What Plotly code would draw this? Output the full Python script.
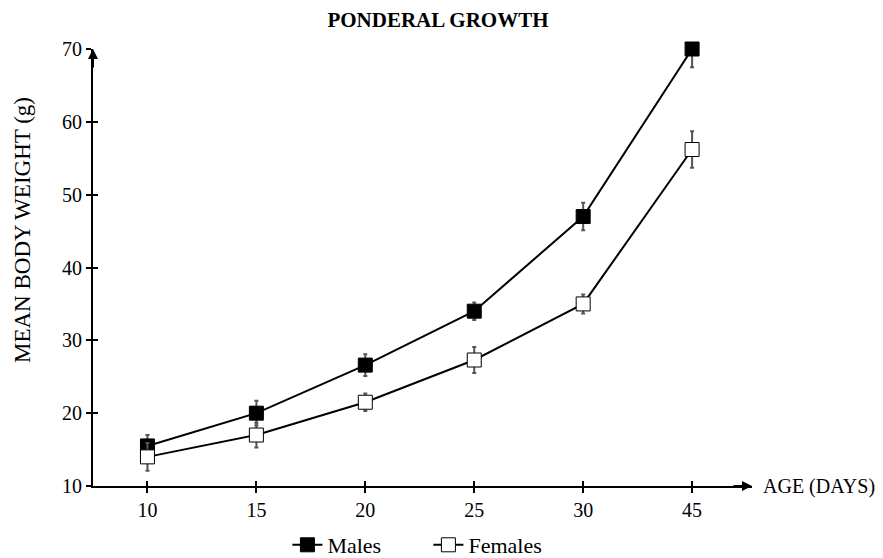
import plotly.graph_objects as go

ages = ["10", "15", "20", "25", "30", "45"]
males = [15.5, 20.0, 26.6, 34.0, 47.0, 70.0]
males_err = [1.5, 1.7, 1.5, 1.2, 1.9, 2.5]
females = [14.0, 17.0, 21.5, 27.3, 35.0, 56.2]
females_err = [1.9, 1.7, 1.2, 1.8, 1.3, 2.5]
y_ticks = [10, 20, 30, 40, 50, 60, 70]

FONT = "Liberation Serif"
XR = [-0.5, 5.55]
YR = [10, 70]

fig = go.Figure()
fig.add_trace(go.Scatter(
    x=ages, y=males, name="Males", mode="lines+markers", cliponaxis=False,
    line=dict(color="black", width=2),
    marker=dict(symbol="square", size=14, color="black", line=dict(color="black", width=1)),
    error_y=dict(type="data", array=males_err, color="#555555", thickness=2, width=2),
))
fig.add_trace(go.Scatter(
    x=ages, y=females, name="Females", mode="lines+markers", cliponaxis=False,
    line=dict(color="black", width=2),
    marker=dict(symbol="square", size=14, color="white", line=dict(color="black", width=1)),
    error_y=dict(type="data", array=females_err, color="#555555", thickness=2, width=2),
))

fig.update_layout(
    width=883, height=558,
    margin=dict(l=93, r=131, t=49, b=72, autoexpand=False),
    paper_bgcolor="white", plot_bgcolor="white",
    font=dict(family=FONT, color="black", size=20),
    title=dict(text="<b>PONDERAL GROWTH</b>", x=438 / 883, xref="container", y=1 - 20 / 558,
               yref="container", yanchor="middle", xanchor="center",
               font=dict(family=FONT, size=21, color="black")),
    showlegend=True,
    legend=dict(orientation="h", x=0.295, xanchor="left", y=1 - 545 / 558, yref="container",
                yanchor="middle", entrywidth=96,
                font=dict(family=FONT, size=22, color="black"),
                tracegroupgap=0, bgcolor="rgba(0,0,0,0)"),
    xaxis=dict(type="category", range=XR, showline=True, linecolor="black",
               linewidth=2, ticks="outside", ticklen=5, tickwidth=2, tickcolor="black",
               showgrid=False, zeroline=False, tickfont=dict(family=FONT, size=20)),
    yaxis=dict(range=YR, tickvals=y_ticks, showline=True, linecolor="black",
               linewidth=2, ticks="outside", ticklen=5, tickwidth=2, tickcolor="black",
               showgrid=False, zeroline=False, tickfont=dict(family=FONT, size=20)),
    xaxis2=dict(overlaying="x", range=XR, type="category", categoryarray=ages,
                tickmode="array", tickvals=ages, ticks="inside", ticklen=5, tickwidth=2,
                tickcolor="black", showticklabels=False, showgrid=False, zeroline=False,
                showline=False, anchor="y"),
    yaxis2=dict(overlaying="y", range=YR, tickvals=y_ticks, ticks="inside", ticklen=5,
                tickwidth=2, tickcolor="black", showticklabels=False, showgrid=False,
                zeroline=False, showline=False, anchor="x", side="left"),
)

# invisible trace so the overlay axes (inside half of the crossing ticks) are drawn
fig.add_trace(go.Scatter(x=ages, y=males, xaxis="x2", yaxis="y2", mode="markers",
                         marker=dict(opacity=0), showlegend=False, hoverinfo="skip"))

# y-axis title
fig.add_annotation(x=(22 - 93) / 659, y=(486 - 230) / 437, xref="paper", yref="paper",
                   text="MEAN BODY WEIGHT (g)", textangle=-90, showarrow=False,
                   xanchor="center", yanchor="middle",
                   font=dict(family=FONT, size=23, color="black"))

# axis arrows
fig.add_annotation(x=1, y=0, xref="paper", yref="paper", ax=-20, ay=0, text="",
                   showarrow=True, arrowhead=2, arrowsize=1, arrowwidth=2, arrowcolor="black")
fig.add_annotation(x=0, y=1, xref="paper", yref="paper", ax=0, ay=20, text="",
                   showarrow=True, arrowhead=2, arrowsize=1, arrowwidth=2, arrowcolor="black")
fig.add_annotation(x=1, y=0, xref="paper", yref="paper", xshift=9, text="AGE (DAYS)",
                   showarrow=False, xanchor="left", yanchor="middle",
                   font=dict(family=FONT, size=20, color="black"))

fig.write_html("out.html")
